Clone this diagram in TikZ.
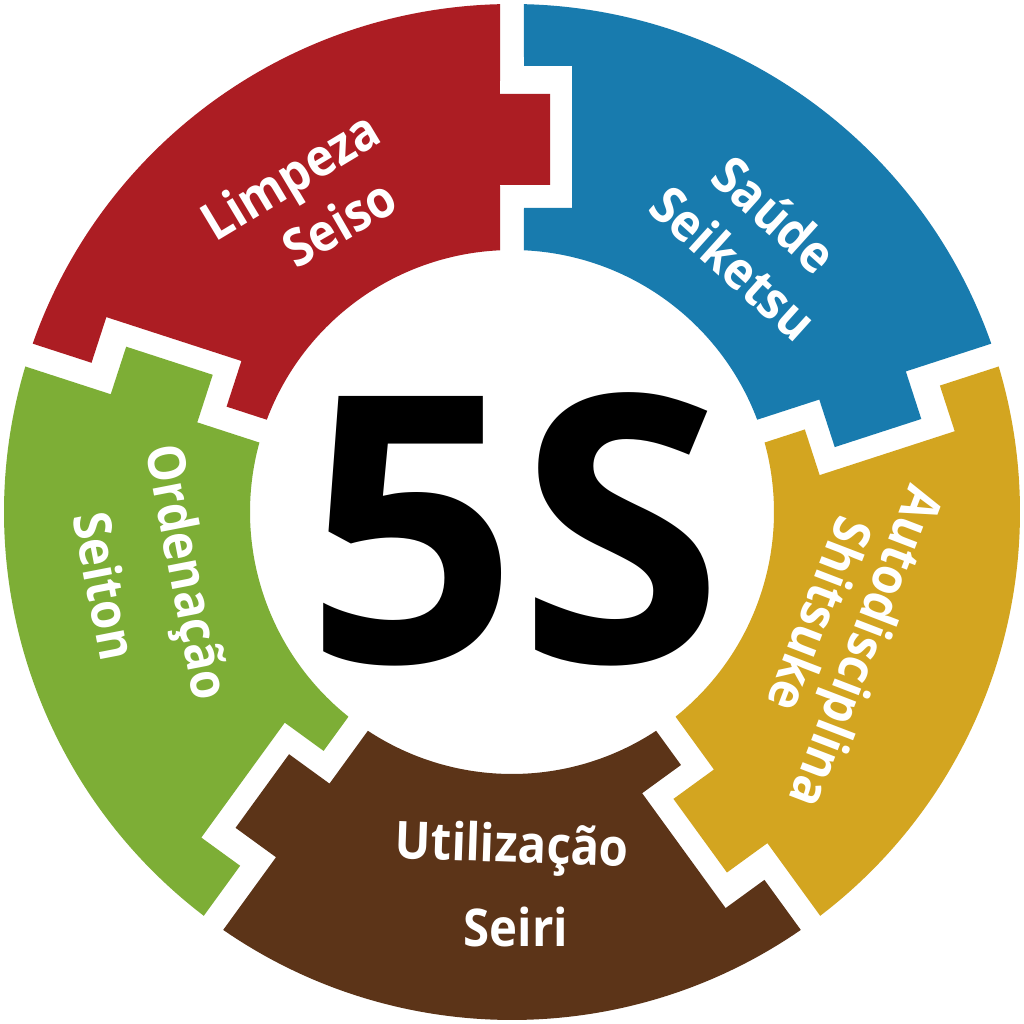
\documentclass[tikz,border=0pt]{standalone}
\usepackage{fontspec}
\setmainfont{Open Sans}
\newfontfamily\lblfont{Open Sans}[FakeStretch=0.91]
\usetikzlibrary{calc}
\definecolor{cred}{HTML}{AC1D23}
\definecolor{cblue}{HTML}{187BAE}
\definecolor{cgold}{HTML}{D3A520}
\definecolor{cbrown}{HTML}{5C3418}
\definecolor{cgreen}{HTML}{7DAE36}
\tikzset{
  lbl/.style={text=white, inner sep=0pt, font=\lblfont\bfseries\fontsize{14.8}{15}\selectfont},
  big/.style={text=black, inner sep=0pt, font=\bfseries\fontsize{106}{106}\selectfont}
}
\begin{document}
\begin{tikzpicture}[x=0.01cm,y=0.01cm]
\useasboundingbox (-512,-512) rectangle (512,512);
\fill[white] (-512,-512) rectangle (512,512);
\def\Ro{508}
\def\Ri{262}
\def\dRo{1.354}
\def\dRi{2.625}
\foreach \a/\col in {90/cred,18/cblue,-54/cgold,-126/cbrown,162/cgreen}{
  \pgfmathsetmacro{\b}{\a+72}
  \fill[\col] (\a+\dRi:\Ri)
    -- ($(\a:327)+(\a-90:-12)$) -- ($(\a:327)+(\a-90:38)$)
    -- ($(\a:418)+(\a-90:38)$) -- ($(\a:418)+(\a-90:-12)$)
    -- (\a+\dRo:\Ro) arc[start angle=\a+\dRo, end angle=\b-\dRo, radius=\Ro]
    -- ($(\b:446)+(\b-90:12)$) -- ($(\b:446)+(\b-90:60)$)
    -- ($(\b:304)+(\b-90:60)$) -- ($(\b:304)+(\b-90:12)$)
    -- (\b-\dRi:\Ri) arc[start angle=\b-\dRi, end angle=\a+\dRi, radius=\Ri]
    -- cycle;
}
\node[lbl, rotate=31] (limpeza) at (-219,332) {Limpeza};
\node[lbl, rotate=30] (seiso) at (-173,290) {Seiso};
\node[lbl, rotate=-42] (saude) at (263,298) {Saúde};
\node[lbl, rotate=-42] (seiketsu) at (222,249) {Seiketsu};
\node[lbl, rotate=-111] (auto) at (350,-134) {Autodisciplina};
\node[lbl, rotate=-111] (shitsuke) at (309,-103) {Shitsuke};
\node[lbl, rotate=-2] (util) at (0,-337) {Utilização};
\node[lbl] (seiri) at (4,-415) {Seiri};
\node[lbl, rotate=-79] (ordem) at (-329,-61) {Ordenação};
\node[lbl, rotate=-79] (seiton) at (-406,-74) {Seiton};
\node[big] (fives) at (3,-17) {5S};
\end{tikzpicture}
\end{document}
